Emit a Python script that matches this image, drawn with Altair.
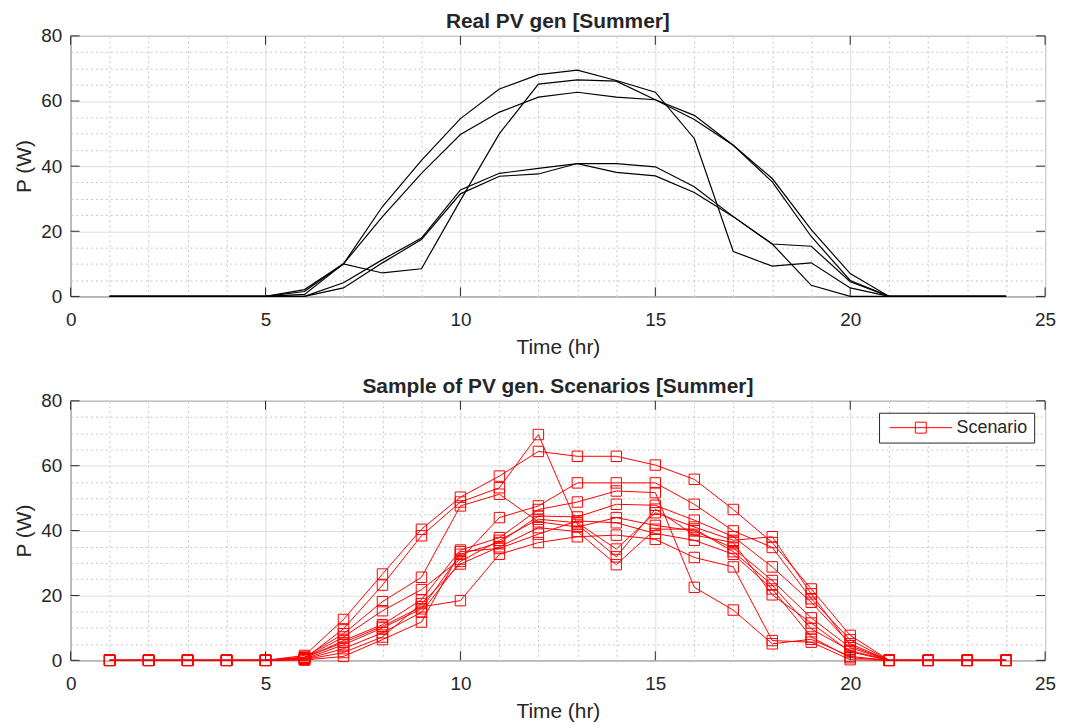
import altair as alt
import pandas as pd

hours = list(range(1, 25))

# Real PV generation curves (top panel)
real_1 = [0, 0, 0, 0, 0, 2.1, 10.0, 27.6, 41.8, 54.6, 63.7, 68.1, 69.5, 66.3, 62.7, 48.5, 13.8, 9.3, 10.3, 2.6, 0, 0, 0, 0]
real_2 = [0, 0, 0, 0, 0, 0.6, 10.0, 7.2, 8.5, 29.5, 50.0, 65.2, 66.5, 66.1, 60.4, 55.6, 46.4, 36.2, 20.5, 7.0, 0, 0, 0, 0]
real_3 = [0, 0, 0, 0, 0, 1.5, 10.0, 24.5, 37.8, 49.7, 56.6, 61.2, 62.7, 61.2, 60.4, 54.3, 46.4, 35.2, 18.4, 4.9, 0, 0, 0, 0]
real_4 = [0, 0, 0, 0, 0, 0, 4.2, 11.3, 17.9, 32.7, 37.8, 39.3, 40.8, 40.8, 39.8, 33.7, 24.5, 16.1, 15.4, 4.5, 0, 0, 0, 0]
real_5 = [0, 0, 0, 0, 0, 0, 2.6, 10.3, 17.5, 31.5, 36.9, 37.6, 40.8, 38.1, 37.0, 31.9, 24.5, 16.1, 3.4, 0, 0, 0, 0, 0]
real_series = [real_1, real_2, real_3, real_4, real_5]

# Sample of scenarios (bottom panel)
scen_1 = [0, 0, 0, 0, 0, 0.5, 9.7, 23.2, 38.4, 48.8, 53.2, 69.6, 41.9, 31.9, 46.6, 38.6, 36.3, 20.2, 11.5, 2.6, 0, 0, 0, 0]
scen_2 = [0, 0, 0, 0, 0, 1.5, 12.6, 26.6, 40.4, 50.3, 56.8, 64.4, 62.9, 62.9, 60.2, 55.8, 46.5, 36.3, 22.0, 7.7, 0, 0, 0, 0]
scen_3 = [0, 0, 0, 0, 0, 1.0, 8.2, 18.1, 25.6, 47.6, 51.2, 42.7, 41.1, 44.0, 41.6, 39.9, 34.6, 24.6, 13.1, 3.9, 0, 0, 0, 0]
scen_4 = [0, 0, 0, 0, 0, 0.8, 7.2, 15.3, 21.8, 31.2, 44.0, 47.6, 54.7, 54.7, 54.7, 48.1, 39.9, 34.8, 19.0, 6.3, 0, 0, 0, 0]
scen_5 = [0, 0, 0, 0, 0, 0.6, 6.1, 11.0, 18.7, 34.0, 37.8, 46.5, 48.8, 52.2, 51.7, 22.5, 15.5, 5.1, 6.5, 1.2, 0, 0, 0, 0]
scen_6 = [0, 0, 0, 0, 0, 0.4, 4.8, 10.0, 15.9, 32.7, 36.3, 44.5, 44.2, 48.1, 47.8, 43.2, 38.1, 28.8, 17.9, 5.1, 0, 0, 0, 0]
scen_7 = [0, 0, 0, 0, 0, 0.3, 3.6, 8.5, 14.8, 30.5, 37.0, 43.5, 42.4, 34.3, 45.5, 41.1, 37.0, 38.1, 20.5, 4.5, 0, 0, 0, 0]
scen_8 = [0, 0, 0, 0, 0, 0.2, 2.4, 7.2, 17.5, 29.7, 35.0, 40.9, 39.7, 29.5, 40.4, 40.5, 33.5, 23.2, 9.7, 3.0, 0, 0, 0, 0]
scen_9 = [0, 0, 0, 0, 0, 0.1, 1.2, 6.4, 11.8, 33.5, 34.5, 38.9, 43.0, 42.4, 39.1, 37.0, 32.7, 22.0, 7.2, 0.8, 0, 0, 0, 0]
scen_10 = [0, 0, 0, 0, 0, 0.9, 5.5, 10.5, 16.5, 18.4, 32.7, 36.3, 38.1, 38.6, 37.3, 31.7, 28.8, 6.1, 5.6, 0.2, 0, 0, 0, 0]
scen_series = [scen_1, scen_2, scen_3, scen_4, scen_5, scen_6, scen_7, scen_8, scen_9, scen_10]

x_tick_values = [0, 5, 10, 15, 20, 25]
y_tick_values = [0, 20, 40, 60, 80]
x_grid_values = list(range(0, 26))
y_grid_values = list(range(0, 81, 5))

title_top = "Real PV gen [Summer]"
title_bottom = "Sample of PV gen. Scenarios [Summer]"
x_title = "Time (hr)"
y_title = "P (W)"
legend_label = "Scenario"

real_df = pd.DataFrame(
    [{"series": f"r{i}", "hour": h, "p": v}
     for i, s in enumerate(real_series) for h, v in zip(hours, s)]
)
scen_df = pd.DataFrame(
    [{"scenario": f"s{i}", "hour": h, "p": v, "label": legend_label}
     for i, s in enumerate(scen_series) for h, v in zip(hours, s)]
)
xt_df = pd.DataFrame({"x": x_tick_values})
yt_df = pd.DataFrame({"y": y_tick_values})

FONT = "Liberation Sans"
TXT = "#262626"
W = 980
TICK = 9

xscale = alt.Scale(domain=[0, 25], nice=False, zero=False)
yscale = alt.Scale(domain=[0, 80], nice=False)

x_axis = alt.Axis(
    values=x_grid_values,
    labelExpr="datum.value % 5 === 0 ? datum.label : ''",
    labelOverlap=False, labelFlush=False,
    grid=True,
    gridColor={"condition": {"test": "datum.value % 5 === 0", "value": "#dedede"}, "value": "#c8c8c8"},
    gridDash={"condition": {"test": "datum.value % 5 === 0", "value": []}, "value": [2, 3]},
    ticks=False, domain=False,
    labelFont=FONT, labelFontSize=19, labelColor=TXT, labelPadding=14,
    title=x_title, titleFont=FONT, titleFontSize=21, titleFontWeight="normal",
    titleColor=TXT, titlePadding=7,
)
y_axis = alt.Axis(
    values=y_grid_values,
    labelExpr="datum.value % 20 === 0 ? datum.label : ''",
    labelOverlap=False, labelFlush=False,
    grid=True,
    gridColor={"condition": {"test": "datum.value % 20 === 0", "value": "#dedede"}, "value": "#c8c8c8"},
    gridDash={"condition": {"test": "datum.value % 20 === 0", "value": []}, "value": [2, 3]},
    ticks=False, domain=False,
    labelFont=FONT, labelFontSize=19, labelColor=TXT, labelPadding=9,
    title=y_title, titleFont=FONT, titleFontSize=21, titleFontWeight="normal",
    titleColor=TXT, titlePadding=6,
)


def tick_layers(H):
    bx = alt.Chart(xt_df).mark_rule(color=TXT, strokeWidth=1).encode(
        x=alt.X("x:Q", scale=xscale, axis=x_axis), y=alt.value(H), y2=alt.value(H - TICK))
    tx = alt.Chart(xt_df).mark_rule(color=TXT, strokeWidth=1).encode(
        x=alt.X("x:Q", scale=xscale, axis=x_axis), y=alt.value(0), y2=alt.value(TICK))
    ly = alt.Chart(yt_df).mark_rule(color=TXT, strokeWidth=1).encode(
        y=alt.Y("y:Q", scale=yscale, axis=y_axis), x=alt.value(0), x2=alt.value(TICK))
    ry = alt.Chart(yt_df).mark_rule(color=TXT, strokeWidth=1).encode(
        y=alt.Y("y:Q", scale=yscale, axis=y_axis), x=alt.value(W - TICK), x2=alt.value(W))
    return [bx, tx, ly, ry]


def title(text):
    return alt.TitleParams(text, font=FONT, fontSize=21, fontWeight="bold",
                           color=TXT, offset=-5, anchor="middle")


H1 = 262
top_lines = alt.Chart(real_df).mark_line(color="#000000", strokeWidth=1.2).encode(
    x=alt.X("hour:Q", scale=xscale, axis=x_axis),
    y=alt.Y("p:Q", scale=yscale, axis=y_axis),
    detail="series:N",
)
top = alt.layer(top_lines, *tick_layers(H1)).properties(
    width=W, height=H1, title=title(title_top))

H2 = 261
bottom_lines = alt.Chart(scen_df).mark_line(
    strokeWidth=1,
    point=alt.OverlayMarkDef(shape="square", filled=False, size=110, strokeWidth=1),
).encode(
    x=alt.X("hour:Q", scale=xscale, axis=x_axis),
    y=alt.Y("p:Q", scale=yscale, axis=y_axis),
    detail="scenario:N",
    color=alt.Color(
        "label:N",
        scale=alt.Scale(domain=[legend_label], range=["#ff0000"]),
        legend=alt.Legend(
            title=None, orient="none", legendX=813, legendY=379,
            symbolType="M-6.3,0H6.3M-1.1,-1.1H1.1V1.1H-1.1Z",
            symbolSize=100, symbolStrokeColor="#ff0000", symbolFillColor="transparent",
            symbolStrokeWidth=1, symbolOffset=27, labelOffset=27,
            labelFont=FONT, labelFontSize=18, labelColor=TXT,
            padding=6, strokeColor=TXT, fillColor="white", cornerRadius=0,
        ),
    ),
)
bottom = alt.layer(bottom_lines, *tick_layers(H2)).properties(
    width=W, height=H2, title=title(title_bottom))

chart = alt.vconcat(top, bottom, spacing=17).properties(
    padding={"left": 5, "top": 0, "right": 5, "bottom": 5},
    background="white",
).configure_view(stroke=TXT, strokeWidth=1)

chart.save("out.html", embed_options={"renderer": "svg", "actions": False})
